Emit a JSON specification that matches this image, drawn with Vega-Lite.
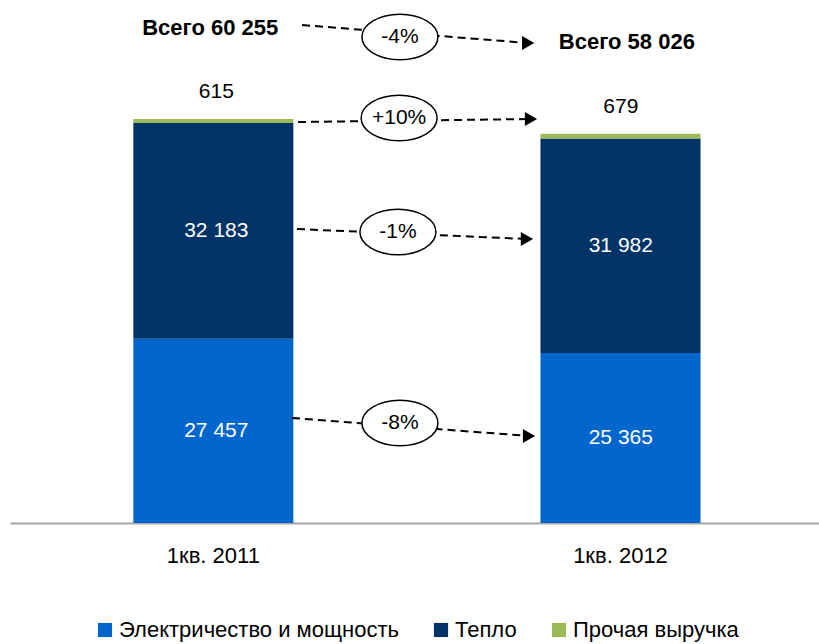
{
  "$schema": "https://vega.github.io/schema/vega-lite/v6.json",
  "width": 809,
  "height": 503,
  "autosize": "none",
  "padding": {"left": 10, "top": 20, "right": 0, "bottom": 121},
  "config": {"view": {"stroke": null}, "font": "Liberation Sans, Arial"},
  "datasets": {
    "bars": [
      {"period": "1кв. 2011", "cat": "Электричество и мощность", "k": 1, "value": 27457, "label": "27 457"},
      {"period": "1кв. 2011", "cat": "Тепло", "k": 2, "value": 32183, "label": "32 183"},
      {"period": "1кв. 2011", "cat": "Прочая выручка", "k": 3, "value": 615, "label": "615"},
      {"period": "1кв. 2012", "cat": "Электричество и мощность", "k": 1, "value": 25365, "label": "25 365"},
      {"period": "1кв. 2012", "cat": "Тепло", "k": 2, "value": 31982, "label": "31 982"},
      {"period": "1кв. 2012", "cat": "Прочая выручка", "k": 3, "value": 679, "label": "679"}
    ],
    "arrows": [
      {"u": 0.722, "v": 74253, "u2": 1.281, "v2": 71570, "uc": 0.964, "vc": 72465, "pct": "-4%"},
      {"u": 0.712, "v": 59791, "u2": 1.288, "v2": 60238, "uc": 0.962, "vc": 60387, "pct": "+10%"},
      {"u": 0.7095, "v": 43837, "u2": 1.278, "v2": 42346, "uc": 0.959, "vc": 43389, "pct": "-1%"},
      {"u": 0.697, "v": 15656, "u2": 1.283, "v2": 12972, "uc": 0.964, "vc": 14910, "pct": "-8%"}
    ],
    "totals": [
      {"u": 0.495, "v": 73807, "t": "Всего 60 255"},
      {"u": 1.525, "v": 71719, "t": "Всего 58 026"}
    ]
  },
  "layer": [
    {
      "data": {"name": "bars"},
      "transform": [
        {"stack": "value", "groupby": ["period"], "sort": [{"field": "k"}], "as": ["y0", "y1"]}
      ],
      "mark": {"type": "bar"},
      "encoding": {
        "x": {
          "field": "period", "type": "nominal",
          "scale": {"paddingInner": 0.607, "paddingOuter": 0.297, "align": 0.51},
          "axis": {"title": null, "labelAngle": 0, "ticks": false, "domainColor": "#A6A6A6", "domainWidth": 2, "labelFontSize": 22, "labelColor": "#000000", "labelPadding": 22}
        },
        "y": {"field": "y0", "type": "quantitative", "scale": {"domain": [0, 75000], "nice": false}, "axis": null},
        "y2": {"field": "y1"},
        "color": {
          "field": "cat", "type": "nominal",
          "scale": {"domain": ["Электричество и мощность", "Тепло", "Прочая выручка"], "range": ["#0066CC", "#003366", "#9BBB59"]},
          "legend": {
            "title": null, "orient": "none", "direction": "horizontal", "legendX": 84, "legendY": 599,
            "symbolType": "square", "symbolSize": 200, "symbolStrokeWidth": 0, "symbolOpacity": 1,
            "labelFontSize": 22, "labelColor": "#000000", "labelOffset": 3, "columnPadding": 31, "labelLimit": 0
          }
        }
      }
    },
    {
      "data": {"name": "bars"},
      "transform": [
        {"stack": "value", "groupby": ["period"], "sort": [{"field": "k"}], "as": ["y0", "y1"]},
        {"filter": "datum.k < 3"},
        {"calculate": "(datum.y0 + datum.y1) / 2", "as": "mid"}
      ],
      "mark": {"type": "text", "fontSize": 21, "color": "#FFFFFF", "baseline": "middle"},
      "encoding": {
        "x": {"field": "period", "type": "nominal", "scale": {"paddingInner": 0.607, "paddingOuter": 0.297, "align": 0.51}, "axis": null},
        "y": {"field": "mid", "type": "quantitative"},
        "text": {"field": "label"}
      }
    },
    {
      "data": {"name": "bars"},
      "transform": [
        {"stack": "value", "groupby": ["period"], "sort": [{"field": "k"}], "as": ["y0", "y1"]},
        {"filter": "datum.k == 3"}
      ],
      "mark": {"type": "text", "fontSize": 21, "color": "#000000", "baseline": "middle", "dy": -27},
      "encoding": {
        "x": {"field": "period", "type": "nominal", "scale": {"paddingInner": 0.607, "paddingOuter": 0.297, "align": 0.51}, "axis": null},
        "y": {"field": "y1", "type": "quantitative"},
        "text": {"field": "label"}
      }
    },
    {
      "data": {"name": "arrows"},
      "mark": {"type": "rule", "color": "#000000", "strokeWidth": 2, "strokeDash": [8, 5]},
      "encoding": {
        "x": {"field": "u", "type": "quantitative", "scale": {"domain": [0, 2], "nice": false, "zero": false}, "axis": null},
        "x2": {"field": "u2"},
        "y": {"field": "v", "type": "quantitative"},
        "y2": {"field": "v2"}
      }
    },
    {
      "data": {"name": "arrows"},
      "mark": {"type": "point", "shape": "triangle-right", "size": 200, "filled": true, "color": "#000000", "opacity": 1},
      "encoding": {
        "x": {"field": "u2", "type": "quantitative", "scale": {"domain": [0, 2], "nice": false, "zero": false}, "axis": null},
        "y": {"field": "v2", "type": "quantitative"}
      }
    },
    {
      "data": {"name": "arrows"},
      "mark": {"type": "point", "shape": "M-1,0A1,0.6,0,1,1,1,0A1,0.6,0,1,1,-1,0Z", "size": 5776, "filled": true, "fill": "#FFFFFF", "stroke": "#000000", "strokeWidth": 1.5, "opacity": 1, "fillOpacity": 1, "strokeOpacity": 1},
      "encoding": {
        "x": {"field": "uc", "type": "quantitative", "scale": {"domain": [0, 2], "nice": false, "zero": false}, "axis": null},
        "y": {"field": "vc", "type": "quantitative"}
      }
    },
    {
      "data": {"name": "arrows"},
      "mark": {"type": "text", "fontSize": 21, "color": "#000000", "baseline": "middle", "align": "center"},
      "encoding": {
        "x": {"field": "uc", "type": "quantitative", "scale": {"domain": [0, 2], "nice": false, "zero": false}, "axis": null},
        "y": {"field": "vc", "type": "quantitative"},
        "text": {"field": "pct"}
      }
    },
    {
      "data": {"name": "totals"},
      "mark": {"type": "text", "fontSize": 22, "fontWeight": "bold", "color": "#000000", "baseline": "middle", "align": "center"},
      "encoding": {
        "x": {"field": "u", "type": "quantitative", "scale": {"domain": [0, 2], "nice": false, "zero": false}, "axis": null},
        "y": {"field": "v", "type": "quantitative"},
        "text": {"field": "t"}
      }
    }
  ],
  "resolve": {"scale": {"x": "independent"}}
}
